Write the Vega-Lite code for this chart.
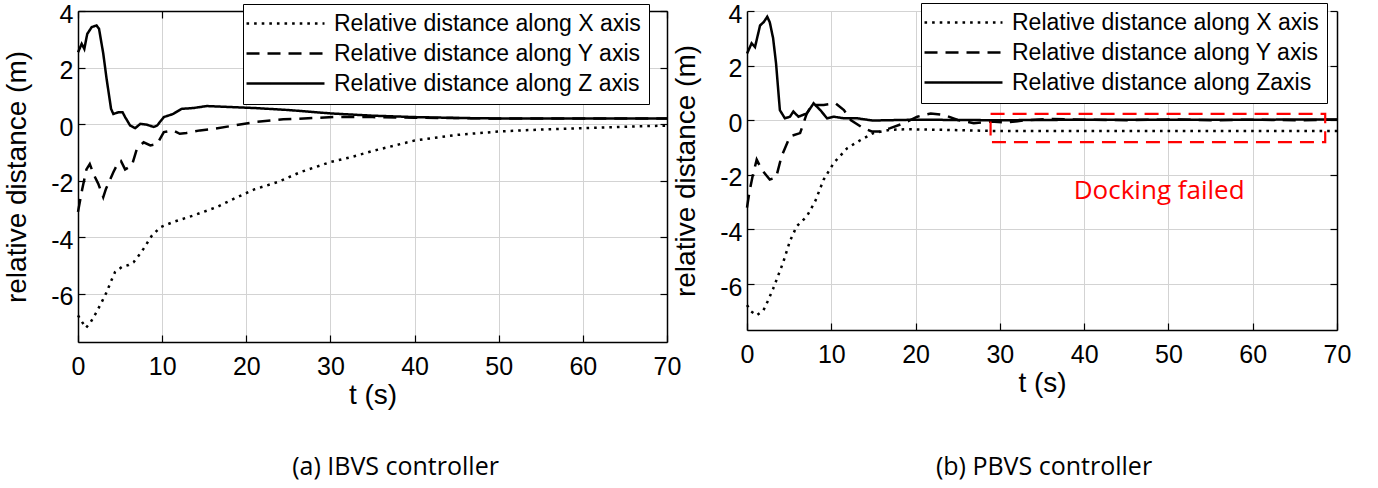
{
  "$schema": "https://vega.github.io/schema/vega-lite/v6.json",
  "background": "white",
  "padding": {"left": 3, "top": 2, "right": 0, "bottom": 8},
  "bounds": "flush",
  "config": {
    "font": "Liberation Sans",
    "view": {"stroke": null},
    "concat": {"spacing": 80},
    "axis": {
      "labelFont": "Liberation Sans", "labelFontSize": 25, "labelColor": "black",
      "labelExpr": "'' + datum.value",
      "titleFont": "Liberation Sans", "titleFontSize": 28, "titleFontWeight": "normal", "titleColor": "black",
      "domainColor": "black", "domainWidth": 1.5, "tickColor": "black", "tickWidth": 1.2, "tickSize": -7,
      "gridColor": "#d3d3d3", "gridWidth": 1, "gridOpacity": 1,
      "labelFlush": false, "labelOverlap": false, "minExtent": 0
    },
    "axisX": {"labelPadding": 19, "titlePadding": 2, "grid": true},
    "axisY": {"labelPadding": 12, "labelOffset": 3, "titlePadding": 19, "grid": true},
    "legend": {
      "orient": "none", "title": null,
      "symbolType": "M-4,0H4", "symbolSize": 380, "symbolStrokeColor": "black", "symbolStrokeWidth": 2.4, "symbolFillColor": "transparent",
      "labelFont": "Liberation Sans", "labelFontSize": 23, "labelColor": "black", "labelLimit": 500,
      "padding": 8, "rowPadding": 6, "strokeColor": "black", "fillColor": "white",
      "symbolOffset": 23, "labelOffset": 37
    }
  },
  "datasets": {
    "ibvs": [
      {"series": "Relative distance along X axis", "t": 0, "v": -6.76},
      {"series": "Relative distance along X axis", "t": 0.5, "v": -7.0},
      {"series": "Relative distance along X axis", "t": 0.95, "v": -7.2},
      {"series": "Relative distance along X axis", "t": 1.5, "v": -7.0},
      {"series": "Relative distance along X axis", "t": 2.2, "v": -6.64},
      {"series": "Relative distance along X axis", "t": 2.8, "v": -6.3},
      {"series": "Relative distance along X axis", "t": 3.4, "v": -5.94},
      {"series": "Relative distance along X axis", "t": 4.0, "v": -5.5},
      {"series": "Relative distance along X axis", "t": 4.4, "v": -5.23},
      {"series": "Relative distance along X axis", "t": 5.2, "v": -5.05},
      {"series": "Relative distance along X axis", "t": 6.0, "v": -4.98},
      {"series": "Relative distance along X axis", "t": 6.6, "v": -4.88},
      {"series": "Relative distance along X axis", "t": 7.2, "v": -4.65},
      {"series": "Relative distance along X axis", "t": 7.8, "v": -4.4},
      {"series": "Relative distance along X axis", "t": 8.8, "v": -3.93},
      {"series": "Relative distance along X axis", "t": 9.8, "v": -3.64},
      {"series": "Relative distance along X axis", "t": 11.3, "v": -3.46},
      {"series": "Relative distance along X axis", "t": 13.7, "v": -3.23},
      {"series": "Relative distance along X axis", "t": 16.5, "v": -2.93},
      {"series": "Relative distance along X axis", "t": 18.5, "v": -2.64},
      {"series": "Relative distance along X axis", "t": 21, "v": -2.3},
      {"series": "Relative distance along X axis", "t": 23.7, "v": -2.05},
      {"series": "Relative distance along X axis", "t": 26.4, "v": -1.7},
      {"series": "Relative distance along X axis", "t": 30, "v": -1.34},
      {"series": "Relative distance along X axis", "t": 32.4, "v": -1.17},
      {"series": "Relative distance along X axis", "t": 35, "v": -0.95},
      {"series": "Relative distance along X axis", "t": 40, "v": -0.58},
      {"series": "Relative distance along X axis", "t": 45, "v": -0.38},
      {"series": "Relative distance along X axis", "t": 50, "v": -0.26},
      {"series": "Relative distance along X axis", "t": 55, "v": -0.19},
      {"series": "Relative distance along X axis", "t": 60, "v": -0.14},
      {"series": "Relative distance along X axis", "t": 65, "v": -0.09},
      {"series": "Relative distance along X axis", "t": 70, "v": -0.05},
      {"series": "Relative distance along Y axis", "t": 0, "v": -3.1},
      {"series": "Relative distance along Y axis", "t": 0.5, "v": -2.3},
      {"series": "Relative distance along Y axis", "t": 1.0, "v": -1.6},
      {"series": "Relative distance along Y axis", "t": 1.4, "v": -1.41},
      {"series": "Relative distance along Y axis", "t": 1.9, "v": -1.8},
      {"series": "Relative distance along Y axis", "t": 2.4, "v": -2.1},
      {"series": "Relative distance along Y axis", "t": 3.0, "v": -2.58},
      {"series": "Relative distance along Y axis", "t": 3.33, "v": -2.28},
      {"series": "Relative distance along Y axis", "t": 4.2, "v": -1.7},
      {"series": "Relative distance along Y axis", "t": 4.8, "v": -1.34},
      {"series": "Relative distance along Y axis", "t": 5.1, "v": -1.3},
      {"series": "Relative distance along Y axis", "t": 5.6, "v": -1.6},
      {"series": "Relative distance along Y axis", "t": 6.4, "v": -1.46},
      {"series": "Relative distance along Y axis", "t": 7.0, "v": -0.87},
      {"series": "Relative distance along Y axis", "t": 7.8, "v": -0.64},
      {"series": "Relative distance along Y axis", "t": 8.6, "v": -0.75},
      {"series": "Relative distance along Y axis", "t": 9.4, "v": -0.7},
      {"series": "Relative distance along Y axis", "t": 10.2, "v": -0.28},
      {"series": "Relative distance along Y axis", "t": 11.3, "v": -0.22},
      {"series": "Relative distance along Y axis", "t": 12.1, "v": -0.34},
      {"series": "Relative distance along Y axis", "t": 12.9, "v": -0.31},
      {"series": "Relative distance along Y axis", "t": 14.5, "v": -0.22},
      {"series": "Relative distance along Y axis", "t": 16.1, "v": -0.17},
      {"series": "Relative distance along Y axis", "t": 18.5, "v": -0.05},
      {"series": "Relative distance along Y axis", "t": 20.9, "v": 0.07},
      {"series": "Relative distance along Y axis", "t": 24.4, "v": 0.17},
      {"series": "Relative distance along Y axis", "t": 30.4, "v": 0.25},
      {"series": "Relative distance along Y axis", "t": 35, "v": 0.25},
      {"series": "Relative distance along Y axis", "t": 40, "v": 0.23},
      {"series": "Relative distance along Y axis", "t": 50, "v": 0.2},
      {"series": "Relative distance along Y axis", "t": 60, "v": 0.2},
      {"series": "Relative distance along Y axis", "t": 70, "v": 0.2},
      {"series": "Relative distance along Z axis", "t": 0, "v": 2.54},
      {"series": "Relative distance along Z axis", "t": 0.44, "v": 2.84},
      {"series": "Relative distance along Z axis", "t": 0.75, "v": 2.66},
      {"series": "Relative distance along Z axis", "t": 1.1, "v": 3.19},
      {"series": "Relative distance along Z axis", "t": 1.63, "v": 3.43},
      {"series": "Relative distance along Z axis", "t": 2.2, "v": 3.49},
      {"series": "Relative distance along Z axis", "t": 2.5, "v": 3.37},
      {"series": "Relative distance along Z axis", "t": 3.0, "v": 2.5},
      {"series": "Relative distance along Z axis", "t": 3.4, "v": 1.6},
      {"series": "Relative distance along Z axis", "t": 3.93, "v": 0.54},
      {"series": "Relative distance along Z axis", "t": 4.2, "v": 0.36},
      {"series": "Relative distance along Z axis", "t": 4.8, "v": 0.42},
      {"series": "Relative distance along Z axis", "t": 5.3, "v": 0.42},
      {"series": "Relative distance along Z axis", "t": 5.6, "v": 0.25},
      {"series": "Relative distance along Z axis", "t": 6.2, "v": -0.05},
      {"series": "Relative distance along Z axis", "t": 6.8, "v": -0.14},
      {"series": "Relative distance along Z axis", "t": 7.4, "v": 0.01},
      {"series": "Relative distance along Z axis", "t": 8.2, "v": -0.02},
      {"series": "Relative distance along Z axis", "t": 9.0, "v": -0.1},
      {"series": "Relative distance along Z axis", "t": 9.4, "v": -0.05},
      {"series": "Relative distance along Z axis", "t": 10.2, "v": 0.25},
      {"series": "Relative distance along Z axis", "t": 11.3, "v": 0.36},
      {"series": "Relative distance along Z axis", "t": 12.3, "v": 0.54},
      {"series": "Relative distance along Z axis", "t": 13.7, "v": 0.57},
      {"series": "Relative distance along Z axis", "t": 15.3, "v": 0.64},
      {"series": "Relative distance along Z axis", "t": 18.5, "v": 0.6},
      {"series": "Relative distance along Z axis", "t": 21, "v": 0.57},
      {"series": "Relative distance along Z axis", "t": 25, "v": 0.5},
      {"series": "Relative distance along Z axis", "t": 30, "v": 0.38},
      {"series": "Relative distance along Z axis", "t": 35, "v": 0.3},
      {"series": "Relative distance along Z axis", "t": 40, "v": 0.25},
      {"series": "Relative distance along Z axis", "t": 45, "v": 0.22},
      {"series": "Relative distance along Z axis", "t": 50, "v": 0.2},
      {"series": "Relative distance along Z axis", "t": 60, "v": 0.2},
      {"series": "Relative distance along Z axis", "t": 70, "v": 0.2}
    ],
    "pbvs": [
      {"series": "Relative distance along X axis", "t": 0, "v": -6.77},
      {"series": "Relative distance along X axis", "t": 0.5, "v": -7.0},
      {"series": "Relative distance along X axis", "t": 1.15, "v": -7.14},
      {"series": "Relative distance along X axis", "t": 1.95, "v": -6.96},
      {"series": "Relative distance along X axis", "t": 2.5, "v": -6.6},
      {"series": "Relative distance along X axis", "t": 3.1, "v": -6.17},
      {"series": "Relative distance along X axis", "t": 4.3, "v": -5.2},
      {"series": "Relative distance along X axis", "t": 5.1, "v": -4.42},
      {"series": "Relative distance along X axis", "t": 5.9, "v": -3.88},
      {"series": "Relative distance along X axis", "t": 7.1, "v": -3.52},
      {"series": "Relative distance along X axis", "t": 8.1, "v": -2.96},
      {"series": "Relative distance along X axis", "t": 9.1, "v": -2.17},
      {"series": "Relative distance along X axis", "t": 10.3, "v": -1.56},
      {"series": "Relative distance along X axis", "t": 11.9, "v": -1.02},
      {"series": "Relative distance along X axis", "t": 13.5, "v": -0.72},
      {"series": "Relative distance along X axis", "t": 15, "v": -0.47},
      {"series": "Relative distance along X axis", "t": 17, "v": -0.35},
      {"series": "Relative distance along X axis", "t": 19, "v": -0.33},
      {"series": "Relative distance along X axis", "t": 23, "v": -0.35},
      {"series": "Relative distance along X axis", "t": 29, "v": -0.39},
      {"series": "Relative distance along X axis", "t": 40, "v": -0.39},
      {"series": "Relative distance along X axis", "t": 50, "v": -0.39},
      {"series": "Relative distance along X axis", "t": 60, "v": -0.39},
      {"series": "Relative distance along X axis", "t": 70, "v": -0.39},
      {"series": "Relative distance along Y axis", "t": 0, "v": -3.2},
      {"series": "Relative distance along Y axis", "t": 0.3, "v": -2.6},
      {"series": "Relative distance along Y axis", "t": 0.7, "v": -2.0},
      {"series": "Relative distance along Y axis", "t": 1.15, "v": -1.44},
      {"series": "Relative distance along Y axis", "t": 1.75, "v": -1.81},
      {"series": "Relative distance along Y axis", "t": 2.7, "v": -2.17},
      {"series": "Relative distance along Y axis", "t": 3.45, "v": -2.1},
      {"series": "Relative distance along Y axis", "t": 4.1, "v": -1.32},
      {"series": "Relative distance along Y axis", "t": 5.1, "v": -0.59},
      {"series": "Relative distance along Y axis", "t": 6.3, "v": -0.47},
      {"series": "Relative distance along Y axis", "t": 7.1, "v": 0.25},
      {"series": "Relative distance along Y axis", "t": 7.7, "v": 0.56},
      {"series": "Relative distance along Y axis", "t": 9.1, "v": 0.56},
      {"series": "Relative distance along Y axis", "t": 10.5, "v": 0.62},
      {"series": "Relative distance along Y axis", "t": 11.5, "v": 0.37},
      {"series": "Relative distance along Y axis", "t": 12.3, "v": 0.01},
      {"series": "Relative distance along Y axis", "t": 13.8, "v": -0.29},
      {"series": "Relative distance along Y axis", "t": 14.8, "v": -0.41},
      {"series": "Relative distance along Y axis", "t": 15.8, "v": -0.41},
      {"series": "Relative distance along Y axis", "t": 17, "v": -0.29},
      {"series": "Relative distance along Y axis", "t": 18.6, "v": -0.11},
      {"series": "Relative distance along Y axis", "t": 20.2, "v": 0.13},
      {"series": "Relative distance along Y axis", "t": 21.8, "v": 0.25},
      {"series": "Relative distance along Y axis", "t": 23.4, "v": 0.19},
      {"series": "Relative distance along Y axis", "t": 25, "v": 0.01},
      {"series": "Relative distance along Y axis", "t": 26.9, "v": -0.11},
      {"series": "Relative distance along Y axis", "t": 28.9, "v": -0.05},
      {"series": "Relative distance along Y axis", "t": 30.9, "v": -0.08},
      {"series": "Relative distance along Y axis", "t": 33, "v": 0.0},
      {"series": "Relative distance along Y axis", "t": 36, "v": 0.05},
      {"series": "Relative distance along Y axis", "t": 40, "v": 0.02},
      {"series": "Relative distance along Y axis", "t": 45, "v": 0.0},
      {"series": "Relative distance along Y axis", "t": 50, "v": 0.03},
      {"series": "Relative distance along Y axis", "t": 55, "v": 0.0},
      {"series": "Relative distance along Y axis", "t": 60, "v": 0.02},
      {"series": "Relative distance along Y axis", "t": 65, "v": 0.0},
      {"series": "Relative distance along Y axis", "t": 70, "v": 0.02},
      {"series": "Relative distance along Zaxis", "t": 0, "v": 2.44},
      {"series": "Relative distance along Zaxis", "t": 0.55, "v": 2.82},
      {"series": "Relative distance along Zaxis", "t": 0.95, "v": 2.68},
      {"series": "Relative distance along Zaxis", "t": 1.55, "v": 3.47},
      {"series": "Relative distance along Zaxis", "t": 2.0, "v": 3.6},
      {"series": "Relative distance along Zaxis", "t": 2.4, "v": 3.79},
      {"series": "Relative distance along Zaxis", "t": 2.7, "v": 3.59},
      {"series": "Relative distance along Zaxis", "t": 3.1, "v": 3.0},
      {"series": "Relative distance along Zaxis", "t": 3.45, "v": 2.07},
      {"series": "Relative distance along Zaxis", "t": 3.9, "v": 0.37},
      {"series": "Relative distance along Zaxis", "t": 4.5, "v": 0.07},
      {"series": "Relative distance along Zaxis", "t": 5.1, "v": 0.13},
      {"series": "Relative distance along Zaxis", "t": 5.5, "v": 0.32},
      {"series": "Relative distance along Zaxis", "t": 6.1, "v": 0.13},
      {"series": "Relative distance along Zaxis", "t": 7.1, "v": 0.25},
      {"series": "Relative distance along Zaxis", "t": 7.9, "v": 0.62},
      {"series": "Relative distance along Zaxis", "t": 8.7, "v": 0.37},
      {"series": "Relative distance along Zaxis", "t": 9.5, "v": 0.07},
      {"series": "Relative distance along Zaxis", "t": 10.3, "v": 0.13},
      {"series": "Relative distance along Zaxis", "t": 11.5, "v": 0.07},
      {"series": "Relative distance along Zaxis", "t": 13.1, "v": 0.07},
      {"series": "Relative distance along Zaxis", "t": 14.9, "v": -0.01},
      {"series": "Relative distance along Zaxis", "t": 20, "v": 0.02},
      {"series": "Relative distance along Zaxis", "t": 30, "v": 0.0},
      {"series": "Relative distance along Zaxis", "t": 40, "v": 0.02},
      {"series": "Relative distance along Zaxis", "t": 50, "v": 0.02},
      {"series": "Relative distance along Zaxis", "t": 60, "v": 0.02},
      {"series": "Relative distance along Zaxis", "t": 70, "v": 0.03}
    ],
    "failbox": [{"t1": 28.9, "t2": 68.6, "v1": 0.23, "v2": -0.8}],
    "failnote": [{"t": 48.9, "v": -2.6, "label": "Docking failed"}]
  },
  "hconcat": [
    {
      "width": 589,
      "height": 331,
      "title": {"text": "(a) IBVS controller", "orient": "bottom", "anchor": "middle", "font": "Open Sans", "fontSize": 25, "fontWeight": "normal", "color": "black", "offset": 46, "dx": 23},
      "layer": [
        {
          "data": {"name": "ibvs"},
          "mark": {"type": "line", "color": "black", "strokeWidth": 2.5, "strokeCap": "butt"},
          "encoding": {
            "x": {"field": "t", "type": "quantitative", "scale": {"domain": [0, 70], "nice": false, "zero": false},
                  "axis": {"orient": "bottom", "title": "t (s)", "values": [0, 10, 20, 30, 40, 50, 60, 70]}},
            "y": {"field": "v", "type": "quantitative", "scale": {"domain": [-7.7, 4], "nice": false, "zero": false},
                  "axis": {"orient": "left", "title": "relative distance (m)", "values": [-6, -4, -2, 0, 2, 4]}},
            "strokeDash": {"field": "series", "type": "nominal",
                  "scale": {"domain": ["Relative distance along X axis", "Relative distance along Y axis", "Relative distance along Z axis"], "range": [[2.6, 5], [13, 8], [1, 0]]},
                  "legend": {"legendX": 165, "legendY": -7}}
          }
        },
        {
          "data": {"values": [{"t": 0, "v": 0}]},
          "mark": {"type": "point", "opacity": 0},
          "encoding": {
            "x": {"field": "t", "type": "quantitative", "scale": {"domain": [0, 70], "nice": false, "zero": false},
                  "axis": {"orient": "top", "title": null, "labels": false, "grid": false, "values": [0, 10, 20, 30, 40, 50, 60, 70]}},
            "y": {"field": "v", "type": "quantitative", "scale": {"domain": [-7.7, 4], "nice": false, "zero": false},
                  "axis": {"orient": "right", "title": null, "labels": false, "grid": false, "values": [-6, -4, -2, 0, 2, 4]}}
          }
        }
      ],
      "resolve": {"axis": {"x": "independent", "y": "independent"}}
    },
    {
      "width": 590,
      "height": 319,
      "title": {"text": "(b) PBVS controller", "orient": "bottom", "anchor": "middle", "font": "Open Sans", "fontSize": 25, "fontWeight": "normal", "color": "black", "offset": 58, "dx": 2},
      "layer": [
        {
          "data": {"name": "pbvs"},
          "mark": {"type": "line", "color": "black", "strokeWidth": 2.5, "strokeCap": "butt"},
          "encoding": {
            "x": {"field": "t", "type": "quantitative", "scale": {"domain": [0, 70], "nice": false, "zero": false},
                  "axis": {"orient": "bottom", "title": "t (s)", "values": [0, 10, 20, 30, 40, 50, 60, 70]}},
            "y": {"field": "v", "type": "quantitative", "scale": {"domain": [-7.68, 4], "nice": false, "zero": false},
                  "axis": {"orient": "left", "title": "relative distance (m)", "values": [-6, -4, -2, 0, 2, 4]}},
            "strokeDash": {"field": "series", "type": "nominal",
                  "scale": {"domain": ["Relative distance along X axis", "Relative distance along Y axis", "Relative distance along Zaxis"], "range": [[2.6, 5], [13, 8], [1, 0]]},
                  "legend": {"legendX": 174, "legendY": -8}}
          }
        },
        {
          "data": {"values": [{"t": 0, "v": 0}]},
          "mark": {"type": "point", "opacity": 0},
          "encoding": {
            "y": {"field": "v", "type": "quantitative", "scale": {"domain": [-7.68, 4], "nice": false, "zero": false},
                  "axis": {"orient": "right", "title": null, "labels": false, "grid": false, "values": [-6, -4, -2, 0, 2, 4]}}
          }
        },
        {
          "data": {"name": "failbox"},
          "mark": {"type": "rect", "fill": null, "stroke": "#ff0000", "strokeWidth": 2.2, "strokeDash": [14, 8]},
          "encoding": {
            "x": {"field": "t1", "type": "quantitative", "scale": {"domain": [0, 70], "nice": false, "zero": false}, "axis": null},
            "x2": {"field": "t2"},
            "y": {"field": "v1", "type": "quantitative", "scale": {"domain": [-7.68, 4], "nice": false, "zero": false}, "axis": null},
            "y2": {"field": "v2"}
          }
        },
        {
          "data": {"name": "failnote"},
          "mark": {"type": "text", "color": "#ff0000", "font": "Open Sans", "fontSize": 26, "align": "center", "baseline": "middle"},
          "encoding": {
            "x": {"field": "t", "type": "quantitative", "scale": {"domain": [0, 70], "nice": false, "zero": false}, "axis": null},
            "y": {"field": "v", "type": "quantitative", "scale": {"domain": [-7.68, 4], "nice": false, "zero": false}, "axis": null},
            "text": {"field": "label"}
          }
        }
      ],
      "resolve": {"axis": {"x": "independent", "y": "independent"}}
    }
  ],
  "resolve": {"scale": {"x": "independent", "y": "independent", "strokeDash": "independent"}, "legend": {"strokeDash": "independent"}}
}
